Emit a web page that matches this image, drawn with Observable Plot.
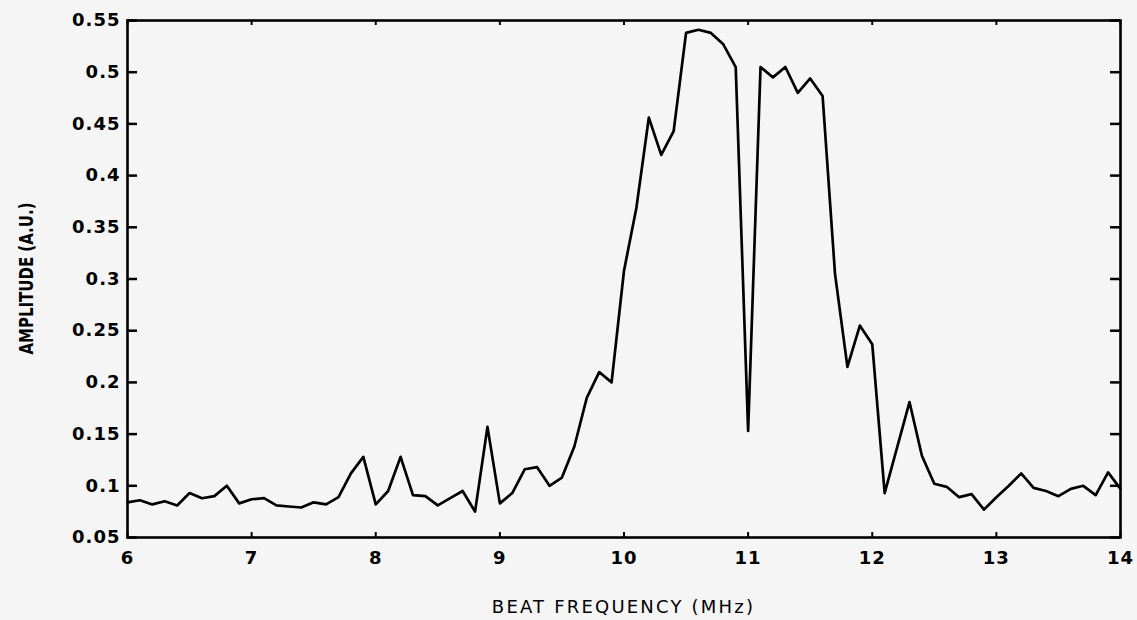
<!DOCTYPE html>
<html><head><meta charset="utf-8">
<script src="https://cdn.jsdelivr.net/npm/d3@7"></script>
<script src="https://cdn.jsdelivr.net/npm/@observablehq/plot@0.6"></script>
<style>
html,body{margin:0;padding:0;background:#f5f5f5;}
#chart{width:1137px;height:620px;}
</style></head><body><div id="chart"></div>
<script>
const freq = [6.0,6.1,6.2,6.3,6.4,6.5,6.6,6.7,6.8,6.9,
  7.0,7.1,7.2,7.3,7.4,7.5,7.6,7.7,7.8,7.9,
  8.0,8.1,8.2,8.3,8.4,8.5,8.6,8.7,8.8,8.9,
  9.0,9.1,9.2,9.3,9.4,9.5,9.6,9.7,9.8,9.9,
  10.0,10.1,10.2,10.3,10.4,10.5,10.6,10.7,10.8,10.9,
  11.0,11.1,11.2,11.3,11.4,11.5,11.6,11.7,11.8,11.9,
  12.0,12.1,12.2,12.3,12.4,12.5,12.6,12.7,12.8,12.9,
  13.0,13.1,13.2,13.3,13.4,13.5,13.6,13.7,13.8,13.9,14.0];
const amplitude = [0.084,0.086,0.082,0.085,0.081,0.093,0.088,0.090,0.100,0.083,
  0.087,0.088,0.081,0.080,0.079,0.084,0.082,0.089,0.112,0.128,
  0.082,0.095,0.128,0.091,0.090,0.081,0.088,0.095,0.075,0.157,
  0.083,0.093,0.116,0.118,0.100,0.108,0.138,0.185,0.210,0.200,
  0.308,0.369,0.456,0.420,0.443,0.538,0.541,0.538,0.527,0.505,
  0.153,0.505,0.495,0.505,0.480,0.494,0.477,0.305,0.215,0.255,
  0.237,0.093,0.137,0.181,0.129,0.102,0.099,0.089,0.092,0.077,
  0.089,0.100,0.112,0.098,0.095,0.090,0.097,0.100,0.091,0.113,0.097];
const xTicks = [6,7,8,9,10,11,12,13,14];
const yTicks = [0.05,0.1,0.15,0.2,0.25,0.3,0.35,0.4,0.45,0.5,0.55];
const xTitle = "BEAT FREQUENCY (MHz)";
const yTitle = "AMPLITUDE (A.U.)";

const data = freq.map((f, i) => ({f, a: amplitude[i]}));
const font = "'DejaVu Sans', sans-serif";

const W = 1137, H = 620, mL = 127, mR = 17, mT = 20, mB = 83;
const plotW = W - mL - mR, plotH = H - mT - mB;
const yTickLen = 10, xTickLen = 5;

const plot = Plot.plot({
  width: W, height: H,
  marginLeft: mL, marginRight: mR, marginTop: mT, marginBottom: mB,
  style: {background: "#f5f5f5", color: "#000", fontFamily: font},
  x: {domain: [6, 14], label: null},
  y: {domain: [0.05, 0.55], label: null},
  marks: [
    Plot.axisX(xTicks, {anchor: "bottom", tickSize: 0, tickPadding: 14, tickFormat: d => String(d), fontSize: 18, fontWeight: "bold"}),
    Plot.axisY(yTicks, {anchor: "left", tickSize: 0, tickPadding: 7, tickFormat: d => String(d), fontSize: 18, fontWeight: "bold"}),
    // inward ticks on all four sides
    Plot.tickY(yTicks, {y: d => d, insetRight: plotW - yTickLen, stroke: "#000", strokeWidth: 2.5}),
    Plot.tickY(yTicks, {y: d => d, insetLeft: plotW - yTickLen, stroke: "#000", strokeWidth: 2.5}),
    Plot.tickX(xTicks, {x: d => d, insetTop: plotH - xTickLen, stroke: "#000", strokeWidth: 2}),
    Plot.tickX(xTicks, {x: d => d, insetBottom: plotH - xTickLen, stroke: "#000", strokeWidth: 2}),
    Plot.frame({stroke: "#000", strokeWidth: 2.6}),
    Plot.line(data, {x: "f", y: "a", stroke: "#000", strokeWidth: 2.7})
  ]
});
document.getElementById("chart").appendChild(plot);

const svg = d3.select(plot);
svg.selectAll('g[aria-label="x-axis tick label"] text, g[aria-label="y-axis tick label"] text')
  .style("letter-spacing", "1px");
const xs = plot.scale("x").range, ys = plot.scale("y").range;
svg.append("text")
  .attr("x", (xs[0] + xs[1]) / 2).attr("y", 613)
  .attr("text-anchor", "middle")
  .style("font-family", font).style("font-size", "18px").style("letter-spacing", "2.2px")
  .attr("fill", "#000")
  .text(xTitle);
svg.append("text")
  .attr("transform", `translate(33,${(ys[0] + ys[1]) / 2}) rotate(-90)`)
  .attr("text-anchor", "middle")
  .attr("textLength", 152).attr("lengthAdjust", "spacingAndGlyphs")
  .style("font-family", "'Liberation Sans Narrow', 'DejaVu Sans Condensed', sans-serif")
  .style("font-size", "20px").style("font-weight", "bold")
  .attr("fill", "#000")
  .text(yTitle);
</script></body></html>
